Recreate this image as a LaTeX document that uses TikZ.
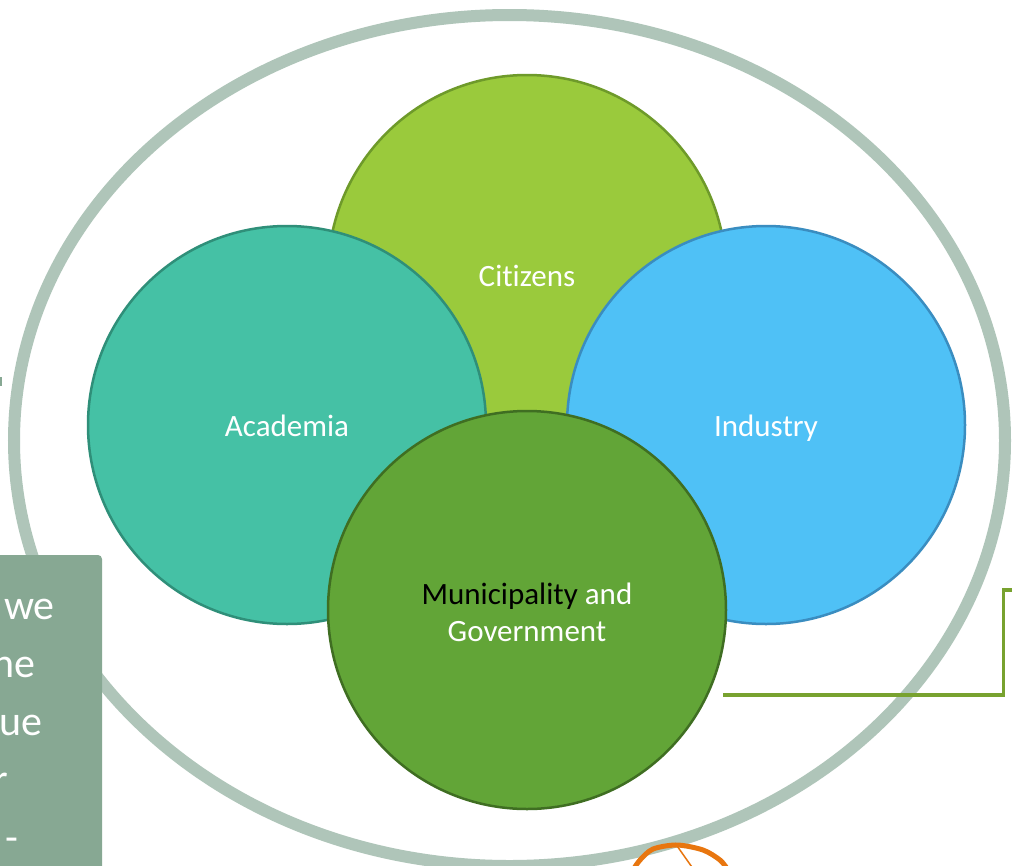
\documentclass[tikz,border=0pt]{standalone}
\usepackage{fontspec}
\setmainfont{Carlito}[Ligatures={NoCommon,NoRequired,NoContextual}]
\definecolor{ellcol}{HTML}{AFC5B9}
\definecolor{citfill}{HTML}{9ACA3C}
\definecolor{citdraw}{HTML}{6E9A2A}
\definecolor{acafill}{HTML}{45C1A5}
\definecolor{acadraw}{HTML}{2F8F79}
\definecolor{indfill}{HTML}{4FC1F6}
\definecolor{inddraw}{HTML}{3A8DC0}
\definecolor{munfill}{HTML}{62A537}
\definecolor{mundraw}{HTML}{3F6E22}
\definecolor{boxcol}{HTML}{87A893}
\definecolor{conncol}{HTML}{78A22F}
\definecolor{orangecol}{HTML}{E8760F}
\tikzset{
  bigcircle/.style={circle, minimum size=398pt, inner sep=0pt, line width=2.5pt},
  circlabel/.style={text=white, inner sep=0pt, font=\fontsize{31}{37}\selectfont, align=center},
  boxtext/.style={anchor=base east, text=white, inner sep=0pt, font=\fontsize{42}{58}\selectfont},
  conn/.style={draw=conncol, line width=3.5pt},
}
\begin{document}
\begin{tikzpicture}[x=1pt,y=-1pt]
\useasboundingbox (0,0) rectangle (1012,865);
\clip (0,0) rectangle (1012,865);
\fill[white] (0,0) rectangle (1012,865);
% outer ellipse
\draw[ellcol, line width=12pt] (509.5,440.5) ellipse [x radius=495.5pt, y radius=425.5pt];
% circles
\node[bigcircle, fill=citfill, draw=citdraw] (cit) at (527,274) {};
\node[circlabel, anchor=base] (cittext) at (527,286) {Citizens};
\node[bigcircle, fill=acafill, draw=acadraw] (aca) at (287,425) {};
\node[circlabel, anchor=base] (acatext) at (287,436) {Academia};
\node[bigcircle, fill=indfill, draw=inddraw] (ind) at (766,425) {};
\node[circlabel, anchor=base] (indtext) at (766,436) {Industry};
\node[bigcircle, fill=munfill, draw=mundraw] (mun) at (527,610) {};
\node[circlabel, anchor=base] (muntext1) at (527,604) {{\color{black}Municipality} and};
\node[circlabel, anchor=base] (muntext2) at (527,641) {Government};
% connector
\coordinate (c1) at (723,695);
\coordinate (c2) at (1003.5,590);
\coordinate (c3) at (1020,590);
\draw[conn] (c1) -| (c2) -- (c3);
% left text box
\fill[boxcol, rounded corners=4pt] (-20,555) rectangle (102,900);
\node[boxtext] (t1) at (55,619) {we};
\node[boxtext] (t2) at (36,677) {he};
\node[boxtext] (t3) at (43,735) {ue};
\node[boxtext] (t4) at (8,793) {r};
\node[boxtext] (t5) at (19,851) {-};
% small mark at left edge
\fill[boxcol] (0,377) rectangle (1.5,386);
% orange scribble
\draw[orangecol, line width=5pt, line cap=round] plot[smooth] coordinates {(633,870) (640,860) (653,849) (677,845) (703,850) (720,860) (728,870)};
\draw[orangecol, line width=1.5pt] (675,843) -- (694,870);
\end{tikzpicture}
\end{document}
